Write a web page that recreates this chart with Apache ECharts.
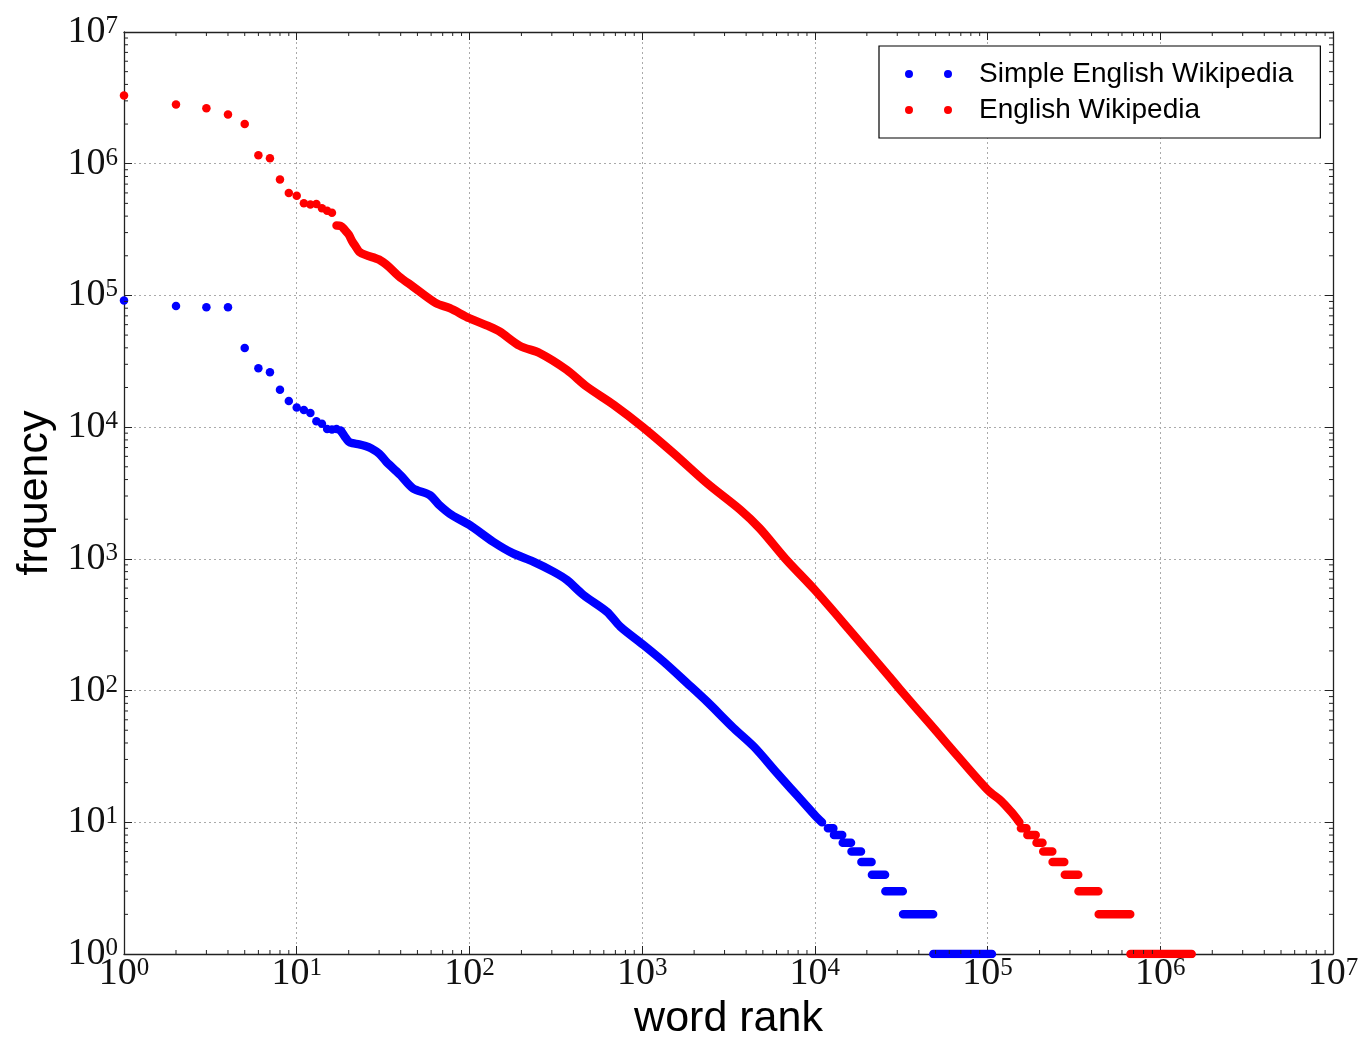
<!DOCTYPE html>
<html><head><meta charset="utf-8">
<script src="https://cdn.jsdelivr.net/npm/echarts@6/dist/echarts.min.js"></script>
<style>html,body{margin:0;padding:0;background:#fff}#c{width:1360px;height:1040px}</style>
</head><body><div id="c"></div>
<script>
// ---- data ----
const seriesNames = ['Simple English Wikipedia', 'English Wikipedia'];
const tickExponents = [0, 1, 2, 3, 4, 5, 6, 7];

// Simple English Wikipedia: discrete top-ranked words
const simpleTopRanks = [1, 2, 3, 4, 5, 6, 7, 8, 9, 10, 11, 12, 13, 14, 15, 16, 17, 18];
const simpleTopFreq = [91400, 83200, 81300, 81300, 39900, 28000, 26100, 19200, 15800, 14100, 13500, 12800, 11100, 10600, 9700, 9600, 9700, 9400];
// Simple English Wikipedia: dense part of the curve
const simpleCurveRanks = [18, 19, 20, 21, 23, 25, 27, 30, 33, 38, 40, 47, 59, 67, 79, 100, 137, 179, 234, 306, 366, 457, 625, 747, 1018, 1330, 1820, 2377, 3393, 4436, 6060, 7240, 8650, 10200, 11000];
const simpleCurveFreq = [9400, 8470, 7760, 7550, 7400, 7200, 6900, 6300, 5470, 4590, 4300, 3440, 3050, 2560, 2150, 1810, 1350, 1100, 953, 800, 692, 532, 397, 306, 222, 166, 114, 82.4, 51.8, 37.5, 23.5, 18.1, 14.0, 11.0, 10];
// Simple English Wikipedia: low-frequency plateaus (frequency, first rank, last rank)
const simplePlateauFreq = [9, 8, 7, 6, 5, 4, 3, 2, 1];
const simplePlateauStart = [11900, 12900, 14500, 16300, 18600, 21400, 25600, 32400, 48500];
const simplePlateauEnd = [12800, 14400, 16200, 18500, 21300, 25500, 32300, 48400, 106000];

// English Wikipedia: discrete top-ranked words
const englishTopRanks = [1, 2, 3, 4, 5, 6, 7, 8, 9, 10, 11, 12, 13, 14, 15, 16];
const englishTopFreq = [3290000, 2820000, 2640000, 2360000, 2000000, 1160000, 1100000, 760000, 600000, 570000, 500000, 490000, 495000, 459000, 440000, 425000];
// English Wikipedia: dense part of the curve
const englishCurveRanks = [17, 18, 19, 20, 21, 22, 23, 25, 30, 34, 39, 47, 64, 77, 100, 131, 150, 196, 256, 366, 478, 683, 1000, 1520, 2377, 3710, 4800, 6760, 10000, 16000, 26400, 31500, 45000, 58700, 100000, 120000, 137000, 153000];
const englishCurveFreq = [339000, 337000, 314000, 290000, 256000, 234000, 215000, 203000, 187000, 166000, 140000, 117000, 87300, 80000, 67100, 58000, 53100, 41400, 36400, 27200, 20300, 14800, 10100, 6340, 3750, 2350, 1700, 1000, 580, 285, 132, 100, 58.5, 39, 17.6, 14.5, 12, 10];
// English Wikipedia: low-frequency plateaus
const englishPlateauFreq = [9, 8, 7, 6, 5, 4, 3, 2, 1];
const englishPlateauStart = [156000, 170000, 192000, 210000, 238000, 280000, 336000, 440000, 672000];
const englishPlateauEnd = [168000, 190000, 208000, 237000, 278000, 335000, 438000, 670000, 1520000];

// ---- build series data ----
function zip(a, b) { return a.map((v, i) => [v, b[i]]); }
function curveWithPlateaus(ranks, freq, pf, ps, pe) {
  const d = zip(ranks, freq);
  for (let i = 0; i < pf.length; i++) {
    d.push([ps[i], '-']);
    d.push([ps[i], pf[i]]);
    d.push([pe[i], pf[i]]);
  }
  return d;
}
const simpleLine = curveWithPlateaus(simpleCurveRanks, simpleCurveFreq, simplePlateauFreq, simplePlateauStart, simplePlateauEnd);
const englishLine = curveWithPlateaus(englishCurveRanks, englishCurveFreq, englishPlateauFreq, englishPlateauStart, englishPlateauEnd);

const BLUE = '#0000ff', RED = '#ff0000';
const minorTicks = [];
for (let k = 0; k < 7; k++) for (let m = 2; m <= 9; m++) minorTicks.push(m * Math.pow(10, k));
const AXMIN = Math.pow(10, tickExponents[0]), AXMAX = Math.pow(10, tickExponents[tickExponents.length - 1]);

const labelRich = {
  b: { fontSize: 38, fontFamily: 'Liberation Serif', lineHeight: 36, color: '#111' },
  s: { fontSize: 25, fontFamily: 'Liberation Serif', lineHeight: 24, verticalAlign: 'top', color: '#111' }
};
function fmt(v) { return '{b|10}{s|' + Math.round(Math.log10(v)) + '}'; }

const gridLine = { show: true, lineStyle: { color: '#aaaaaa', width: 1, type: [2, 3] } };
const axisLine = { show: true, lineStyle: { color: '#222', width: 1.3 } };
const majorTick = { show: true, inside: true, length: 8, lineStyle: { color: '#222', width: 1 } };

const chart = echarts.init(document.getElementById('c'), null, { renderer: 'canvas' });
chart.setOption({
  backgroundColor: '#ffffff',
  animation: false,
  grid: { left: 124, right: 27, top: 32, bottom: 86, containLabel: false, outerBoundsMode: 'none' },
  xAxis: [{
    type: 'log', logBase: 10, min: AXMIN, max: AXMAX, splitNumber: 7,
    name: 'word rank', nameLocation: 'middle', nameGap: 44,
    nameTextStyle: { fontSize: 43, fontFamily: 'Liberation Sans', color: '#000' },
    axisLine, axisTick: majorTick, splitLine: gridLine, minorTick: { show: false },
    axisLabel: { formatter: fmt, rich: labelRich, margin: 2, showMinLabel: true, showMaxLabel: true }
  }, {
    type: 'log', logBase: 10, min: AXMIN, max: AXMAX, splitNumber: 7, position: 'top',
    axisLine, axisTick: majorTick, splitLine: { show: false }, axisLabel: { show: false }
  }],
  yAxis: [{
    type: 'log', logBase: 10, min: AXMIN, max: AXMAX, splitNumber: 7,
    name: 'frquency', nameLocation: 'middle', nameGap: 57, nameRotate: 90,
    nameTextStyle: { fontSize: 43, fontFamily: 'Liberation Sans', color: '#000' },
    axisLine, axisTick: majorTick, splitLine: gridLine,
    axisLabel: { formatter: fmt, rich: labelRich, margin: 6, showMinLabel: true, showMaxLabel: true }
  }, {
    type: 'log', logBase: 10, min: AXMIN, max: AXMAX, splitNumber: 7, position: 'right',
    axisLine, axisTick: majorTick, splitLine: { show: false }, axisLabel: { show: false }
  }],
  legend: {
    left: 879, top: 46, orient: 'vertical', selectedMode: false,
    padding: [14, 27, 14, 26], itemGap: 8,
    borderColor: '#000', borderWidth: 1.2, backgroundColor: '#fff',
    itemWidth: 47, itemHeight: 8,
    textStyle: { fontSize: 28, fontFamily: 'Liberation Sans', color: '#000', lineHeight: 28, padding: [0, 0, 0, 22] },
    data: [
      { name: seriesNames[0], icon: 'path://M0,4A4,4,0,1,1,8,4A4,4,0,1,1,0,4ZM39,4A4,4,0,1,1,47,4A4,4,0,1,1,39,4Z', itemStyle: { color: BLUE, opacity: 1 } },
      { name: seriesNames[1], icon: 'path://M0,4A4,4,0,1,1,8,4A4,4,0,1,1,0,4ZM39,4A4,4,0,1,1,47,4A4,4,0,1,1,39,4Z', itemStyle: { color: RED, opacity: 1 } }
    ]
  },
  series: [
    {
      name: seriesNames[0], type: 'scatter', data: zip(simpleTopRanks, simpleTopFreq),
      symbol: 'circle', symbolSize: 8.5, itemStyle: { color: BLUE, opacity: 1 }, z: 3
    },
    {
      name: seriesNames[0], type: 'line', data: simpleLine, showSymbol: false, connectNulls: false,
      smooth: 0.3,
      lineStyle: { color: BLUE, width: 8.5, cap: 'round', join: 'round' }, itemStyle: { color: BLUE }, z: 3
    },
    {
      name: seriesNames[1], type: 'scatter', data: zip(englishTopRanks, englishTopFreq),
      symbol: 'circle', symbolSize: 8.5, itemStyle: { color: RED, opacity: 1 }, z: 3
    },
    {
      name: seriesNames[1], type: 'line', data: englishLine, showSymbol: false, connectNulls: false,
      smooth: 0.3,
      lineStyle: { color: RED, width: 8.5, cap: 'round', join: 'round' }, itemStyle: { color: RED }, z: 3
    },
    {
      name: 'minor-ticks', type: 'custom', silent: true, clip: false, z: 4,
      data: [[AXMIN, AXMIN]],
      renderItem: function (params, api) {
        const lb = api.coord([AXMIN, AXMIN]);
        const rt = api.coord([AXMAX, AXMAX]);
        const L = 4, ch = [];
        const st = { stroke: '#222', lineWidth: 1 };
        minorTicks.forEach(function (v) {
          const px = api.coord([v, AXMIN])[0];
          const py = api.coord([AXMIN, v])[1];
          ch.push({ type: 'line', shape: { x1: px, y1: lb[1], x2: px, y2: lb[1] - L }, style: st });
          ch.push({ type: 'line', shape: { x1: px, y1: rt[1], x2: px, y2: rt[1] + L }, style: st });
          ch.push({ type: 'line', shape: { x1: lb[0], y1: py, x2: lb[0] + L, y2: py }, style: st });
          ch.push({ type: 'line', shape: { x1: rt[0], y1: py, x2: rt[0] - L, y2: py }, style: st });
        });
        return { type: 'group', children: ch };
      }
    }
  ]
});
</script>
</body></html>
